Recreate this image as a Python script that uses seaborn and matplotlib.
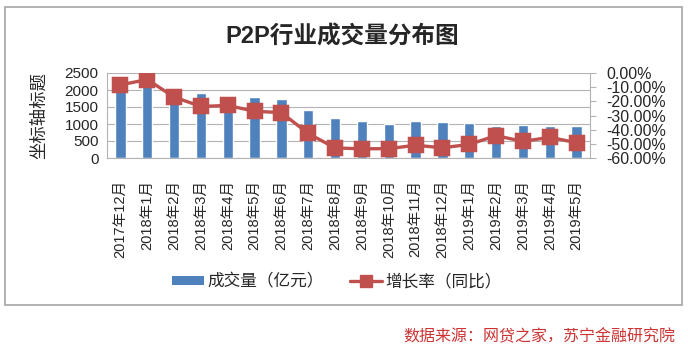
import matplotlib
matplotlib.use("Agg")
import matplotlib.pyplot as plt
from matplotlib.patches import Rectangle, Patch
from matplotlib.lines import Line2D
from matplotlib.ticker import FuncFormatter
import seaborn as sns
import pandas as pd

# 数据
months = ['2017年12月', '2018年1月', '2018年2月', '2018年3月', '2018年4月', '2018年5月',
          '2018年6月', '2018年7月', '2018年8月', '2018年9月', '2018年10月', '2018年11月',
          '2018年12月', '2019年1月', '2019年2月', '2019年3月', '2019年4月', '2019年5月']
volume = [2150, 2300, 1750, 1900, 1650, 1800, 1750, 1420, 1180, 1100,
          1000, 1100, 1060, 1030, 950, 980, 930, 930]
growth = [-8.4, -4.6, -17.0, -23.6, -22.9, -27.0, -28.0, -42.7, -52.9, -53.5,
          -53.4, -51.0, -52.8, -50.4, -44.2, -48.3, -45.4, -49.2]

BLUE = '#4F81BD'
RED = '#C0504D'
GRID = '#b3b3b3'

sns.set_style('white')
plt.rcParams['font.family'] = ['Liberation Sans', 'Noto Sans CJK SC', 'DejaVu Sans']

df = pd.DataFrame({'month': months, 'volume': volume, 'growth': growth})

W, H = 688, 353
fig = plt.figure(figsize=(W / 100, H / 100), dpi=100)
ax = fig.add_axes([107 / W, 1 - 158 / H, (590 - 107) / W, (158 - 73) / H])
ax2 = ax.twinx()

sns.barplot(data=df, x='month', y='volume', ax=ax, color=BLUE, saturation=1,
            width=0.38, zorder=2)
sns.pointplot(data=df, x='month', y='growth', ax=ax2, color=RED, markers='s',
              markersize=10, linewidth=2.4)

# 左轴
ax.set_ylim(0, 2500)
ax.set_yticks(range(0, 2501, 500))
ax.set_xlim(-0.5, len(months) - 0.5)
ax.grid(axis='y', color=GRID, lw=0.8, zorder=0)
ax.set_axisbelow(True)
ax.tick_params(axis='y', length=0, labelsize=11, pad=6)
ax.set_xticks(range(len(months)))
ax.set_xticklabels(months, rotation=90, fontsize=10.5)
ax.tick_params(axis='x', length=0, pad=16)
ax.set_xlabel('')
ax.set_ylabel('坐标轴标题', fontsize=12.5, labelpad=12, family=['Noto Sans CJK SC'])
for s in ['top', 'right']:
    ax.spines[s].set_visible(False)
for s in ['left', 'bottom']:
    ax.spines[s].set_color(GRID)
    ax.spines[s].set_linewidth(0.8)

# 右轴
ax2.set_ylim(-60, 0)
ax2.set_yticks(range(-60, 1, 10))
ax2.yaxis.set_major_formatter(FuncFormatter(lambda v, p: f'{v:.2f}%'))
ax2.tick_params(axis='y', length=4, color=GRID, labelsize=11.5, pad=8)
ax2.set_ylabel('')
for s in ['top', 'left', 'bottom']:
    ax2.spines[s].set_visible(False)
ax2.spines['right'].set_color(GRID)
ax2.spines['right'].set_linewidth(0.8)

# 标题
fig.text(342 / W, 1 - 37 / H, 'P2P行业成交量分布图', ha='center', va='center',
         fontsize=17, fontweight='bold')

# 图例
handles = [Patch(facecolor=BLUE, edgecolor='none'),
           Line2D([], [], color=RED, lw=2.4, marker='s', markersize=8)]
fig.legend(handles, ['成交量（亿元）', '增长率（同比）'], loc='center',
           bbox_to_anchor=(337 / W, 1 - 282 / H), ncol=2, frameon=False,
           handlelength=1.9, handleheight=0.5, handletextpad=0.2,
           columnspacing=1.6, prop={'family': ['Noto Sans CJK SC'], 'size': 12})

# 外框
fig.patches.append(Rectangle((5 / W, 1 - 305 / H), 677 / W, 298 / H,
                             transform=fig.transFigure, fill=False,
                             edgecolor='#a6a6a6', lw=1.2))

# 数据来源
fig.text(675 / W, 1 - 337 / H, '数据来源：网贷之家，苏宁金融研究院', ha='right',
         va='center', fontsize=11.5, color='#cc3333', style='italic',
         family=['Noto Sans CJK SC'])

fig.savefig('out.png', dpi=100)
